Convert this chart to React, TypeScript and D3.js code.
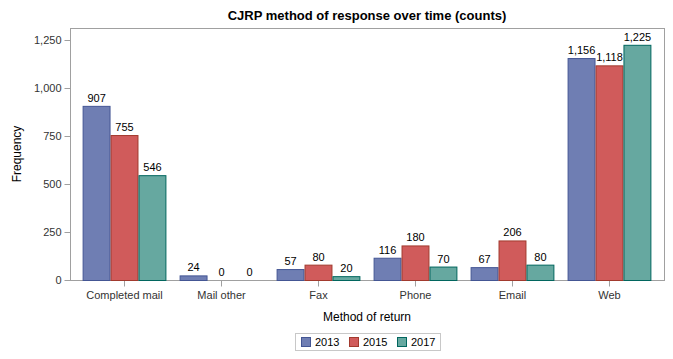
import React, { useEffect, useRef } from 'react';
import * as d3 from 'd3';

const categories = ['Completed mail', 'Mail other', 'Fax', 'Phone', 'Email', 'Web'];
const years = ['2013', '2015', '2017'];
const counts2013 = [907, 24, 57, 116, 67, 1156];
const counts2015 = [755, 0, 80, 180, 206, 1118];
const counts2017 = [546, 0, 20, 70, 80, 1225];
const yTicks = [0, 250, 500, 750, 1000, 1250];

const fills = ['#6f7eb3', '#d05b5b', '#66a8a0'];
const strokes = ['#445694', '#a23a2e', '#01665e'];

export default function App() {
  const ref = useRef<SVGSVGElement>(null);

  useEffect(() => {
    const w = 673, h = 359;
    const left = 70, right = 664, top = 28, bottom = 280;
    const series = [counts2013, counts2015, counts2017];
    const font = 'Liberation Sans, Arial, sans-serif';

    const svg = d3.select(ref.current);
    svg.selectAll('*').remove();
    svg.attr('width', w).attr('height', h).style('font-family', font);

    const x = d3.scaleBand<string>()
      .domain(categories)
      .range([left, right])
      .paddingInner(0.136)
      .paddingOuter(0.13);
    const x1 = d3.scaleBand<string>()
      .domain(years)
      .range([0, x.bandwidth()]);
    const y = d3.scaleLinear().domain([0, 1250]).range([bottom, 40]);

    // title
    svg.append('text')
      .attr('x', 367).attr('y', 20)
      .attr('text-anchor', 'middle')
      .attr('font-size', 13).attr('font-weight', 'bold')
      .attr('fill', '#000')
      .text('CJRP method of response over time (counts)');

    // frame
    svg.append('rect')
      .attr('x', left + 0.5).attr('y', top + 0.5)
      .attr('width', right - left).attr('height', bottom - top)
      .attr('fill', 'none').attr('stroke', '#a0a0a0');

    // y axis
    const yAxis = svg.append('g')
      .attr('transform', `translate(${left + 0.5},0)`)
      .call(d3.axisLeft(y).tickValues(yTicks).tickSize(6).tickPadding(3).tickFormat(d3.format(',')));
    yAxis.select('.domain').remove();
    yAxis.selectAll('line').attr('stroke', '#a0a0a0');
    yAxis.selectAll('text').attr('font-size', 11).attr('fill', '#333').style('font-family', font);

    // x axis
    const xAxis = svg.append('g')
      .attr('transform', `translate(0,${bottom + 0.5})`)
      .call(d3.axisBottom(x).tickSize(6).tickPadding(5));
    xAxis.select('.domain').remove();
    xAxis.selectAll('line').attr('stroke', '#a0a0a0');
    xAxis.selectAll('text').attr('font-size', 11).attr('fill', '#333').style('font-family', font);

    // bars
    years.forEach((yr, i) => {
      const g = svg.append('g');
      categories.forEach((cat, j) => {
        const v = series[i][j];
        const bx = (x(cat) ?? 0) + (x1(yr) ?? 0);
        if (v > 0) {
          g.append('rect')
            .attr('x', bx + 0.5)
            .attr('y', y(v) + 0.5)
            .attr('width', x1.bandwidth() - 1)
            .attr('height', bottom - y(v))
            .attr('fill', fills[i])
            .attr('stroke', strokes[i]);
        }
        g.append('text')
          .attr('x', bx + x1.bandwidth() / 2)
          .attr('y', y(v) - 4)
          .attr('text-anchor', 'middle')
          .attr('font-size', 11)
          .attr('fill', '#000')
          .text(d3.format(',')(v));
      });
    });

    // axis labels
    svg.append('text')
      .attr('transform', `translate(21,${(top + bottom) / 2}) rotate(-90)`)
      .attr('text-anchor', 'middle')
      .attr('font-size', 12).attr('fill', '#000')
      .text('Frequency');
    svg.append('text')
      .attr('x', 367).attr('y', 321)
      .attr('text-anchor', 'middle')
      .attr('font-size', 12).attr('fill', '#000')
      .text('Method of return');

    // legend
    const lg = svg.append('g');
    lg.append('rect')
      .attr('x', 295.5).attr('y', 333.5).attr('width', 145).attr('height', 17)
      .attr('fill', 'none').attr('stroke', '#c8c8c8');
    years.forEach((yr, i) => {
      const lx = 301 + i * 48;
      lg.append('rect')
        .attr('x', lx + 0.5).attr('y', 337.5).attr('width', 9).attr('height', 9)
        .attr('fill', fills[i]).attr('stroke', strokes[i]);
      lg.append('text')
        .attr('x', lx + 14).attr('y', 346)
        .attr('font-size', 11).attr('fill', '#000')
        .text(yr);
    });
  }, []);

  return <svg ref={ref} style={{ position: 'absolute', left: 0, top: 0 }} />;
}
